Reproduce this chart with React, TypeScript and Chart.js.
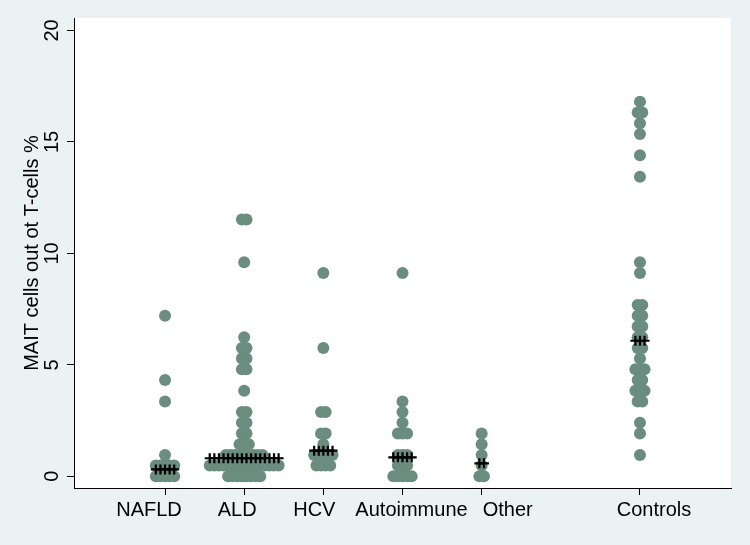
import React, { useEffect, useRef } from "react";
import { Chart, registerables } from "chart.js";

Chart.register(...registerables);

// ---------- data ----------
const categories = ["NAFLD", "ALD", "HCV", "Autoimmune", "Other", "Controls"];
const categoryPositions = [1, 2, 3, 4, 5, 7];
const yTicks = [0, 5, 10, 15, 20];
const yTitle = "MAIT cells out ot T-cells %";

const nafld = [0, 0, 0, 0, 0, 0.48, 0.48, 0.48, 0.48, 0.48, 0.96, 3.36, 4.32, 7.2];
const ald = [
  0, 0, 0, 0, 0, 0, 0, 0,
  0.48, 0.48, 0.48, 0.48, 0.48, 0.48, 0.48, 0.48, 0.48, 0.48, 0.48, 0.48, 0.48, 0.48, 0.48, 0.48,
  0.96, 0.96, 0.96, 0.96, 0.96, 0.96, 0.96, 0.96, 0.96,
  1.44, 1.44, 1.44, 1.92, 1.92, 2.4, 2.4, 2.88, 2.88, 3.84,
  4.8, 4.8, 5.28, 5.28, 5.76, 5.76, 6.24, 9.6, 11.52, 11.52,
];
const hcv = [0.48, 0.48, 0.48, 0.48, 0.96, 0.96, 0.96, 0.96, 0.96, 1.44, 1.92, 1.92, 2.88, 2.88, 5.76, 9.12];
const autoimmune = [0, 0, 0, 0, 0, 0.48, 0.48, 0.48, 0.96, 0.96, 0.96, 1.92, 1.92, 1.92, 2.4, 2.88, 3.36, 9.12];
const other = [0, 0, 0.48, 0.96, 1.44, 1.92];
const controls = [
  0.96, 1.92, 2.4, 3.36, 3.36, 3.84, 3.84, 3.84, 4.32, 4.32, 4.8, 4.8, 4.8, 5.28,
  5.76, 5.76, 6.24, 6.24, 6.72, 6.72, 7.2, 7.2, 7.68, 7.68, 9.12, 9.6,
  13.44, 14.4, 15.36, 15.84, 16.32, 16.32, 16.8,
];
const medians = [0.31, 0.81, 1.15, 0.85, 0.58, 6.08];

const groups = [nafld, ald, hcv, autoimmune, other, controls];

// ---------- styles ----------
const BG = "rgb(234,242,243)";
const DOT_COLOR = "#6a8d80";
const DOT_STEP = 0.058; // horizontal spacing of stacked dots (x units)
const FONT_FAMILY = '"Liberation Sans", Arial, Helvetica, sans-serif';
const LABEL_SHIFT_PX = [-16, -7, -9, 9, 26, 14];

function rowCounts(values: number[]) {
  const m = new Map<number, number>();
  values.forEach((v) => m.set(v, (m.get(v) || 0) + 1));
  return m;
}

function swarm(values: number[], center: number) {
  const pts: { x: number; y: number }[] = [];
  rowCounts(values).forEach((n, v) => {
    for (let k = 0; k < n; k++) pts.push({ x: center + (k - (n - 1) / 2) * DOT_STEP, y: v });
  });
  return pts;
}

function medianMarks(values: number[], center: number, median: number) {
  let maxRow = 0;
  rowCounts(values).forEach((n) => (maxRow = Math.max(maxRow, n)));
  const pts: { x: number; y: number }[] = [];
  for (let k = 0; k < maxRow; k++) pts.push({ x: center + (k - (maxRow - 1) / 2) * DOT_STEP, y: median });
  return pts;
}

const plotBgPlugin = {
  id: "plotBg",
  beforeDraw(chart: any) {
    const { ctx, chartArea } = chart;
    ctx.save();
    ctx.fillStyle = "#ffffff";
    ctx.fillRect(chartArea.left, chartArea.top, chartArea.right - chartArea.left, chartArea.bottom - chartArea.top);
    ctx.restore();
  },
};

const xLabelPlugin = {
  id: "xLabels",
  afterDraw(chart: any) {
    const { ctx } = chart;
    const x = chart.scales.x;
    ctx.save();
    ctx.font = `20px ${FONT_FAMILY}`;
    ctx.fillStyle = "#000";
    ctx.textAlign = "center";
    ctx.textBaseline = "alphabetic";
    categories.forEach((c, i) => {
      ctx.fillText(c, x.getPixelForValue(categoryPositions[i]) + LABEL_SHIFT_PX[i], chart.chartArea.bottom + 28);
    });
    ctx.restore();
  },
};

export default function App() {
  const canvasRef = useRef<HTMLCanvasElement | null>(null);

  useEffect(() => {
    if (!canvasRef.current) return;
    const dotData: { x: number; y: number }[] = [];
    const medData: { x: number; y: number }[] = [];
    groups.forEach((g, i) => {
      dotData.push(...swarm(g, categoryPositions[i]));
      medData.push(...medianMarks(g, categoryPositions[i], medians[i]));
    });

    const chart = new Chart(canvasRef.current, {
      type: "scatter",
      data: {
        datasets: [
          {
            label: "Median",
            data: medData,
            pointStyle: "cross",
            pointRadius: 5,
            pointBorderWidth: 2.2,
            borderColor: "#000",
            backgroundColor: "#000",
            order: 0,
          },
          {
            label: "MAIT",
            data: dotData,
            pointRadius: 6,
            pointBorderWidth: 0,
            backgroundColor: DOT_COLOR,
            borderColor: DOT_COLOR,
            order: 1,
          },
        ],
      },
      options: {
        animation: false,
        responsive: true,
        maintainAspectRatio: false,
        devicePixelRatio: 1,
        layout: { padding: { top: 18, right: 19, left: 0, bottom: 0 } },
        plugins: { legend: { display: false }, tooltip: { enabled: false } },
        scales: {
          x: {
            type: "linear",
            min: -0.15,
            max: 8.15,
            afterBuildTicks: (s: any) => {
              s.ticks = categoryPositions.map((v) => ({ value: v }));
            },
            afterFit: (s: any) => {
              s.height = 57;
            },
            ticks: { display: false, autoSkip: false },
            grid: { display: true, drawOnChartArea: false, drawTicks: true, tickLength: 7, color: "#000", lineWidth: 1 },
            border: { display: true, color: "#000", width: 1 },
          },
          y: {
            type: "linear",
            min: -0.525,
            max: 20.56,
            afterBuildTicks: (s: any) => {
              s.ticks = yTicks.map((v) => ({ value: v }));
            },
            afterFit: (s: any) => {
              s.width = 74;
            },
            ticks: {
              autoSkip: false,
              minRotation: 90,
              maxRotation: 90,
              crossAlign: "center",
              padding: 3,
              color: "#000",
              font: { size: 20, family: FONT_FAMILY },
            },
            grid: { display: true, drawOnChartArea: false, drawTicks: true, tickLength: 7, color: "#000", lineWidth: 1 },
            border: { display: true, color: "#000", width: 1 },
            title: {
              display: true,
              text: yTitle,
              color: "#000",
              font: { size: 20, family: FONT_FAMILY },
              padding: { top: 20, bottom: 0 },
            },
          },
        },
      },
      plugins: [plotBgPlugin, xLabelPlugin],
    });
    return () => chart.destroy();
  }, []);

  return (
    <div style={{ position: "fixed", left: 0, top: 0, width: 750, height: 545, background: BG }}>
      <canvas ref={canvasRef} />
    </div>
  );
}
